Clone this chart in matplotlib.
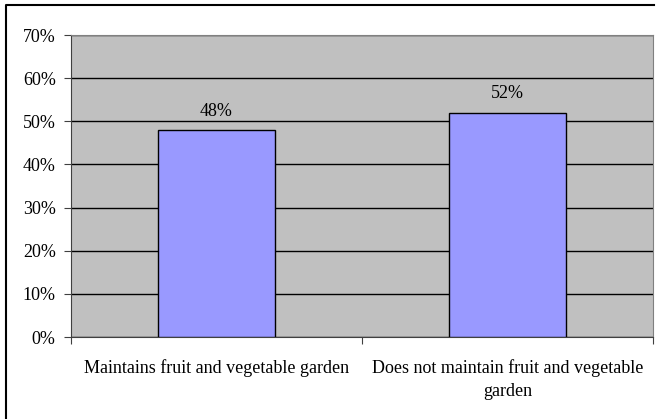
import matplotlib.pyplot as plt
from matplotlib.lines import Line2D
from matplotlib.ticker import PercentFormatter

categories = ['Maintains fruit and vegetable garden',
              'Does not maintain fruit and vegetable\ngarden']
shares = [48, 52]
yticks = [0, 10, 20, 30, 40, 50, 60, 70]

plt.rcParams['font.family'] = 'Liberation Serif'
plt.rcParams['font.size'] = 13

W, H = 659, 419
fig = plt.figure(figsize=(W / 100, H / 100), dpi=100)
ax = fig.add_axes([71 / W, (H - 337) / H, 582 / W, 302 / H])
ax.set_facecolor('#c0c0c0')

x = range(len(categories))
ax.bar(x, shares, width=0.4, color='#9999ff', edgecolor='black', linewidth=1, zorder=3)
for xi, v in zip(x, shares):
    ax.text(xi, v + 2.4, '%d%%' % v, ha='center', va='bottom', fontsize=13)

ax.set_xlim(-0.5, 1.5)
ax.set_ylim(0, 70)
ax.set_yticks(yticks)
ax.yaxis.set_major_formatter(PercentFormatter(decimals=0))
ax.yaxis.grid(True, color='black', linewidth=1)
ax.set_axisbelow(True)

# category labels between boundary ticks
ax.set_xticks([-0.5, 0.5, 1.5])
ax.set_xticklabels([])
ax.set_xticks(list(x), minor=True)
ax.set_xticklabels(categories, minor=True, linespacing=1.45)
ax.tick_params(axis='x', which='minor', length=0, pad=16)
ax.tick_params(axis='x', which='major', length=5, color='#404040')
ax.tick_params(axis='y', length=5, color='#404040', pad=6)

for s in ['left', 'bottom']:
    ax.spines[s].set_color('#404040')
for s in ['top', 'right']:
    ax.spines[s].set_color('#808080')

# outer frame
fig.add_artist(Line2D([6 / W, 6 / W, 654 / W], [0, 1 - 5 / H, 1 - 5 / H],
                      transform=fig.transFigure, color='black', linewidth=1.5))

fig.savefig('out.png', dpi=100)
